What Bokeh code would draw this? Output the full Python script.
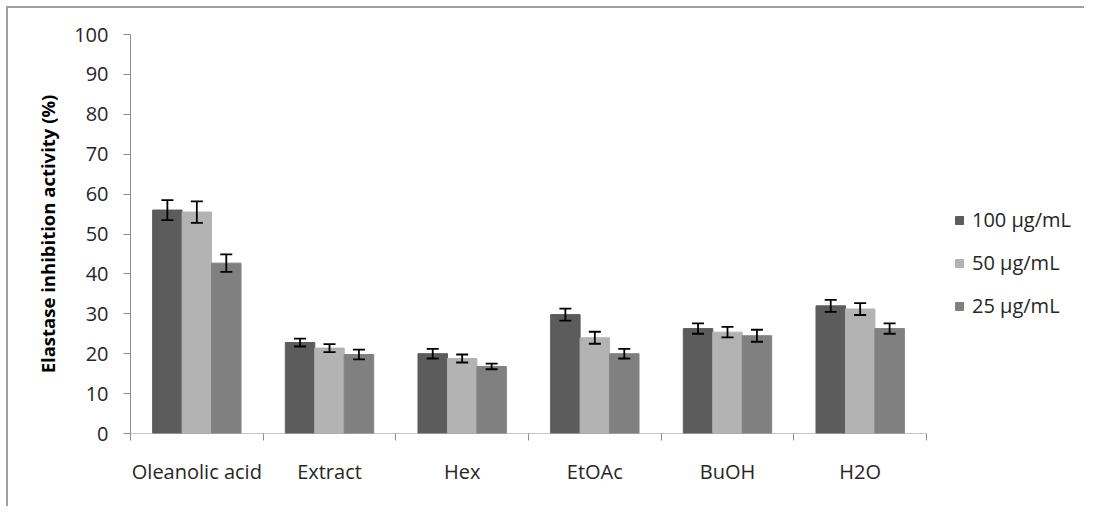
from bokeh.plotting import figure
from bokeh.models import ColumnDataSource, Whisker, FixedTicker, Legend, LegendItem, Range1d, TeeHead
from bokeh.embed import file_html
from bokeh.resources import INLINE

categories = ["Oleanolic acid", "Extract", "Hex", "EtOAc", "BuOH", "H2O"]
series_names = ["100 µg/mL", "50 µg/mL", "25 µg/mL"]
vals_100 = [56.0, 22.8, 20.0, 29.8, 26.3, 32.0]
vals_50 = [55.5, 21.4, 18.8, 24.0, 25.4, 31.2]
vals_25 = [42.7, 19.8, 16.8, 20.0, 24.5, 26.3]
err_100 = [2.5, 1.0, 1.2, 1.5, 1.3, 1.5]
err_50 = [2.7, 1.0, 1.0, 1.5, 1.3, 1.5]
err_25 = [2.2, 1.2, 0.7, 1.2, 1.5, 1.3]
y_ticks = [0, 10, 20, 30, 40, 50, 60, 70, 80, 90, 100]

colors = ["#5c5c5c", "#b3b3b3", "#808080"]
FONT = "Open Sans"
AXIS_COL = "#8c8c8c"

n = len(categories)
# the plotting frame also holds the legend: the category axis occupies 796 of its 956 px
x_end = n * 956 / 796

p = figure(width=1078, height=500, output_backend="svg", toolbar_location=None,
           x_range=Range1d(0, x_end), y_range=Range1d(0, 100),
           min_border_left=122, min_border_right=0, min_border_top=26, min_border_bottom=75)
p.outline_line_color = None
p.grid.visible = False
p.styles = {"border-left": "2px solid #a0a0a0", "border-top": "2px solid #a0a0a0",
            "margin-left": "6px", "margin-top": "6px"}

offsets = [-0.222, 0.0, 0.222]
bw = 0.222
renderers = []
for vals, errs, off, col in zip([vals_100, vals_50, vals_25], [err_100, err_50, err_25], offsets, colors):
    xs = [i + 0.5 + off for i in range(n)]
    src = ColumnDataSource(dict(x=xs, top=vals, lo=[v - e for v, e in zip(vals, errs)],
                                hi=[v + e for v, e in zip(vals, errs)]))
    r = p.vbar(x="x", top="top", width=bw, source=src, fill_color=col, line_color=col)
    renderers.append(r)
    w = Whisker(base="x", lower="lo", upper="hi", source=src, line_color="black", line_width=1.8,
                upper_head=TeeHead(size=12, line_width=1.8, line_color="black"),
                lower_head=TeeHead(size=12, line_width=1.8, line_color="black"),
                level="overlay")
    p.add_layout(w)

# x axis baseline only under the categories
p.segment(x0=[0], y0=[0], x1=[n], y1=[0], line_color=AXIS_COL, line_width=1)

# x axis: labels at centers, ticks at boundaries
xa = p.xaxis[0]
xa.ticker = FixedTicker(ticks=[i + 0.5 for i in range(n)], minor_ticks=list(range(n + 1)))
xa.major_label_overrides = {i + 0.5: c for i, c in enumerate(categories)}
xa.major_tick_out = 0
xa.major_tick_in = 0
xa.minor_tick_out = 7
xa.minor_tick_in = 0
xa.minor_tick_line_color = AXIS_COL
xa.axis_line_color = None
xa.major_label_standoff = 17
xa.major_label_text_font = FONT
xa.major_label_text_font_size = "20px"
xa.major_label_text_color = "#262626"

ya = p.yaxis[0]
ya.ticker = FixedTicker(ticks=y_ticks)
ya.major_tick_out = 7
ya.major_tick_in = 0
ya.minor_tick_line_color = None
ya.major_tick_line_color = AXIS_COL
ya.axis_line_color = AXIS_COL
ya.major_label_standoff = 15
ya.major_label_text_font = FONT
ya.major_label_text_font_size = "20px"
ya.major_label_text_color = "#262626"
ya.axis_label = "Elastase inhibition activity (%)"
ya.axis_label_text_font = FONT
ya.axis_label_text_font_style = "bold"
ya.axis_label_text_font_size = "18.5px"
ya.axis_label_text_color = "#000000"
ya.axis_label_standoff = 11

legend = Legend(items=[LegendItem(label=s, renderers=[r]) for s, r in zip(series_names, renderers)],
                location=(824, 114), glyph_width=10, glyph_height=10, label_height=20,
                spacing=16, padding=0, margin=0, label_standoff=8, border_line_color=None,
                background_fill_alpha=0, label_text_font=FONT, label_text_font_size="20px",
                label_text_color="#262626")
p.add_layout(legend)

open("out.html", "w").write(file_html(p, INLINE))
